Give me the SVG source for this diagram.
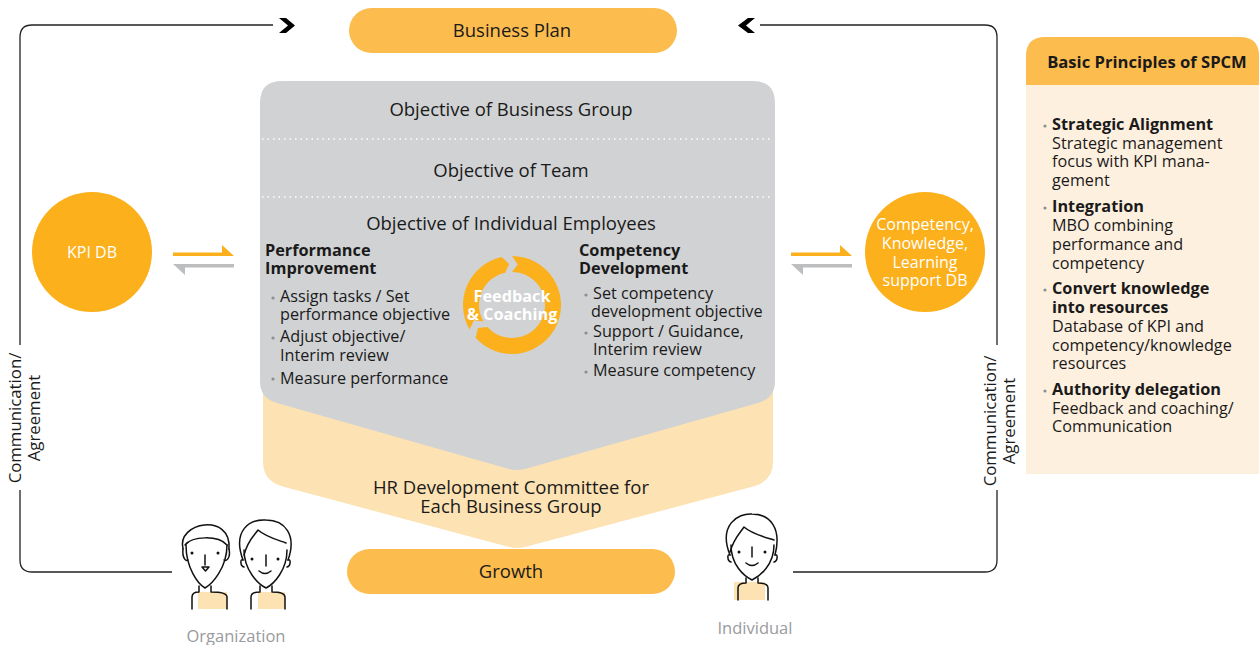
<svg xmlns="http://www.w3.org/2000/svg" width="1259" height="645" viewBox="0 0 1259 645">
  <style>
    text { font-family: "Open Sans", "Noto Sans", "DejaVu Sans", sans-serif; fill: #1a1a1a; }
    .h { font-size: 18.5px; text-anchor: middle; }
    .b { font-size: 16.3px; font-weight: bold; }
    .t { font-size: 16.2px; }
    .v { font-size: 16.8px; text-anchor: middle; }
    .w { fill: #ffffff; font-size: 16px; text-anchor: middle; }
    .g { fill: #999a9c; font-size: 16.5px; text-anchor: middle; }
    .dot { fill: #8d8e90; }
    .loop { fill: none; stroke: #222; stroke-width: 1.3; }
    .pill { fill: #fcbd4e; }
    .disc { fill: #fbb01c; }
    .ink { fill: none; stroke: #111; stroke-width: 1.5; stroke-linecap: round; stroke-linejoin: round; }
    .skin { fill: #fde2b3; }
  </style>

  <!-- feedback loop lines and chevrons -->
  <g id="connectors">
    <path class="loop" d="M 20 345 V 37 Q 20 25 32 25 H 273"/>
    <path class="loop" d="M 20 490 V 560 Q 20 572 32 572 H 172"/>
    <path class="loop" d="M 760 25 H 985 Q 997 25 997 37 V 345"/>
    <path class="loop" d="M 997 490 V 560 Q 997 572 985 572 H 793"/>
    <polygon fill="#000" points="279,18 286,18 295,25.5 286,33 279,33 288,25.5"/>
    <polygon fill="#000" points="755,18 748,18 738,25.5 748,33 755,33 746,25.5"/>
    <!-- exchange harpoons -->
    <polygon fill="#fbb01c" points="173,252.5 222,252.5 222,245 234,256 173,256"/>
    <polygon fill="#bdbec0" points="234,264 234,267.5 185,267.5 185,275 173,264"/>
    <polygon fill="#fbb01c" points="791,252.5 840,252.5 840,245 852,256 791,256"/>
    <polygon fill="#bdbec0" points="852,264 852,267.5 803,267.5 803,275 791,264"/>
    <text class="v" transform="translate(21,418) rotate(-90)">Communication/</text>
    <text class="v" transform="translate(40,418) rotate(-90)">Agreement</text>
    <text class="v" transform="translate(996,421) rotate(-90)">Communication/</text>
    <text class="v" transform="translate(1015,421) rotate(-90)">Agreement</text>
  </g>

  <g id="business-plan">
    <rect class="pill" x="349" y="8" width="328" height="45" rx="22.5"/>
    <text class="h" x="512" y="37">Business Plan</text>
  </g>

  <g id="hr-committee">
    <path fill="#fde2b3" d="M 263 370 V 462 Q 263 480 281 486 L 509 547 Q 517 549 525 547 L 755 486 Q 773 480 773 462 V 370 Z"/>
    <text class="h" x="511" y="494">HR Development Committee for</text>
    <text class="h" x="511" y="513">Each Business Group</text>
  </g>

  <g id="objectives">
    <path fill="#d1d2d4" d="M 282 81 H 753 Q 775 81 775 103 V 382 Q 775 398 758 403 L 525 469 Q 517 471 509 469 L 277 403 Q 260 398 260 382 V 103 Q 260 81 282 81 Z"/>
    <line x1="262" y1="139" x2="773" y2="139" stroke="#fff" stroke-width="1.5" stroke-dasharray="1.5 4"/>
    <line x1="262" y1="197" x2="773" y2="197" stroke="#fff" stroke-width="1.5" stroke-dasharray="1.5 4"/>
    <text class="h" x="511" y="116">Objective of Business Group</text>
    <text class="h" x="511" y="177">Objective of Team</text>
    <text class="h" x="511" y="230">Objective of Individual Employees</text>
  </g>

  <g id="performance">
    <text class="b" x="265" y="256">Performance</text>
    <text class="b" x="265" y="274">Improvement</text>
    <circle class="dot" cx="273" cy="298" r="1.6"/>
    <text class="t" x="280" y="302">Assign tasks / Set</text>
    <text class="t" x="280" y="320">performance objective</text>
    <circle class="dot" cx="273" cy="338" r="1.6"/>
    <text class="t" x="280" y="342">Adjust objective/</text>
    <text class="t" x="280" y="361">Interim review</text>
    <circle class="dot" cx="273" cy="379" r="1.6"/>
    <text class="t" x="280" y="384">Measure performance</text>
  </g>

  <g id="competency">
    <text class="b" x="579" y="256">Competency</text>
    <text class="b" x="579" y="273.5">Development</text>
    <circle class="dot" cx="586" cy="295" r="1.6"/>
    <text class="t" x="593" y="299">Set competency</text>
    <text class="t" x="591" y="316.5">development objective</text>
    <circle class="dot" cx="586" cy="333" r="1.6"/>
    <text class="t" x="593" y="337">Support / Guidance,</text>
    <text class="t" x="593" y="354.5">Interim review</text>
    <circle class="dot" cx="586" cy="372" r="1.6"/>
    <text class="t" x="593" y="376">Measure competency</text>
  </g>

  <g id="feedback-coaching">
    <path class="disc" d="M469.56,329.5 A49,49 0 0,1 501.81,257.07 L509.14,264.10 L505.14,272.72 A33,33 0 0,0 483.42,321.5 L473.98,320.36 Z"/>
    <path class="disc" d="M512,256 A49,49 0 1,1 475.59,337.79 L478.01,327.93 L487.48,327.08 A33,33 0 1,0 512,272 L517.71,264.40 Z"/>
    <text class="b" style="fill:#fff" x="512" y="302" text-anchor="middle">Feedback</text>
    <text class="b" style="fill:#fff" x="512" y="320" text-anchor="middle">&amp; Coaching</text>
  </g>

  <g id="kpi-db">
    <circle class="disc" cx="92" cy="252" r="60"/>
    <text class="w" x="92" y="258">KPI DB</text>
  </g>

  <g id="competency-db">
    <circle class="disc" cx="925" cy="252" r="60"/>
    <text class="w" x="925" y="230">Competency,</text>
    <text class="w" x="925" y="249">Knowledge,</text>
    <text class="w" x="925" y="268">Learning</text>
    <text class="w" x="925" y="286">support DB</text>
  </g>

  <g id="growth">
    <rect class="pill" x="347" y="549" width="328" height="45" rx="22.5"/>
    <text class="h" x="511" y="578">Growth</text>
  </g>

  <g id="organization">
    <!-- woman -->
    <path class="skin" d="M 198 592 H 227 V 609 H 198 Z"/>
    <path class="ink" d="M 183 549 C 176 522 232 512 229 549"/>
    <path class="ink" d="M 185 545 C 192 536 218 535 227 545"/>
    <path class="ink" d="M 186 545 C 186 568 198 584 205 588 C 212 584 227 568 227 545"/>
    <path class="ink" d="M 183 549 C 182 558 186 562 188 560 M 229 549 C 231 558 226 562 224 560"/>
    <circle cx="192" cy="553" r="1.5" fill="#111"/>
    <circle cx="218" cy="553" r="1.5" fill="#111"/>
    <path class="ink" d="M 205 555 V 565"/>
    <path class="ink" d="M 202 567 H 209 L 205.5 571 Z"/>
    <path class="ink" d="M 199 586 V 592 Q 192 592 192 597 V 609 M 211 586 V 592 Q 227 592 227 597 V 609"/>
    <!-- man -->
    <path class="skin" d="M 258 592 H 285 V 609 H 258 Z"/>
    <path class="ink" d="M 243 560 C 232 530 250 519 266 520 C 285 520 297 535 288 560"/>
    <path class="ink" d="M 244 555 C 248 540 254 536 258 530 C 266 537 278 540 286 543"/>
    <path class="ink" d="M 244 550 C 244 570 258 584 266 588 C 274 584 287 570 287 550"/>
    <path class="ink" d="M 243 560 C 240 558 240 566 244 567 M 288 560 C 291 558 291 566 287 567"/>
    <circle cx="252" cy="559" r="1.5" fill="#111"/>
    <circle cx="278" cy="559" r="1.5" fill="#111"/>
    <path class="ink" d="M 266 555 V 566"/>
    <path class="ink" d="M 259 571 Q 265 576 271 571"/>
    <path class="ink" d="M 260 586 V 592 Q 251 592 251 597 V 609 M 272 586 V 592 Q 285 592 285 597 V 609"/>
    <text class="g" x="236" y="642">Organization</text>
  </g>

  <g id="individual">
    <path class="skin" d="M 734 582 H 765 V 600 H 734 Z"/>
    <path class="ink" d="M 730 555 C 718 525 738 513 752 514 C 770 514 782 528 775 555"/>
    <path class="ink" d="M 730 552 C 734 538 740 533 744 527 C 752 534 764 537 774 540"/>
    <path class="ink" d="M 731 545 C 731 565 744 576 752 580 C 760 576 774 565 774 545"/>
    <path class="ink" d="M 730 555 C 727 553 727 561 731 562 M 775 555 C 778 553 778 561 774 562"/>
    <circle cx="739" cy="552" r="1.5" fill="#111"/>
    <circle cx="765" cy="552" r="1.5" fill="#111"/>
    <path class="ink" d="M 752 547 V 557"/>
    <path class="ink" d="M 746 563 Q 752 568 758 563"/>
    <path class="ink" d="M 746 578 V 583 Q 738 583 738 588 V 600 M 758 578 V 583 Q 768 583 768 588 V 600"/>
    <text class="g" x="755" y="634">Individual</text>
  </g>

  <g id="principles">
    <rect x="1026" y="85" width="233" height="389" fill="#fef0df"/>
    <path class="pill" d="M 1026 85 V 56 Q 1026 37 1045 37 H 1240 Q 1259 37 1259 56 V 85 Z"/>
    <text class="b" style="font-size:16.6px" x="1147" y="68" text-anchor="middle">Basic Principles of SPCM</text>
    <circle class="dot" cx="1045" cy="126" r="1.6"/>
    <text class="b" x="1052" y="130">Strategic Alignment</text>
    <text class="t" x="1052" y="149">Strategic management</text>
    <text class="t" x="1052" y="167">focus with KPI mana-</text>
    <text class="t" x="1052" y="186">gement</text>
    <circle class="dot" cx="1045" cy="208" r="1.6"/>
    <text class="b" x="1052" y="212">Integration</text>
    <text class="t" x="1052" y="231">MBO combining</text>
    <text class="t" x="1052" y="250">performance and</text>
    <text class="t" x="1052" y="269">competency</text>
    <circle class="dot" cx="1045" cy="290" r="1.6"/>
    <text class="b" x="1052" y="294">Convert knowledge</text>
    <text class="b" x="1052" y="313">into resources</text>
    <text class="t" x="1052" y="332">Database of KPI and</text>
    <text class="t" x="1052" y="351">competency/knowledge</text>
    <text class="t" x="1052" y="369">resources</text>
    <circle class="dot" cx="1045" cy="391" r="1.6"/>
    <text class="b" x="1052" y="395">Authority delegation</text>
    <text class="t" x="1052" y="414">Feedback and coaching/</text>
    <text class="t" x="1052" y="432">Communication</text>
  </g>
</svg>
